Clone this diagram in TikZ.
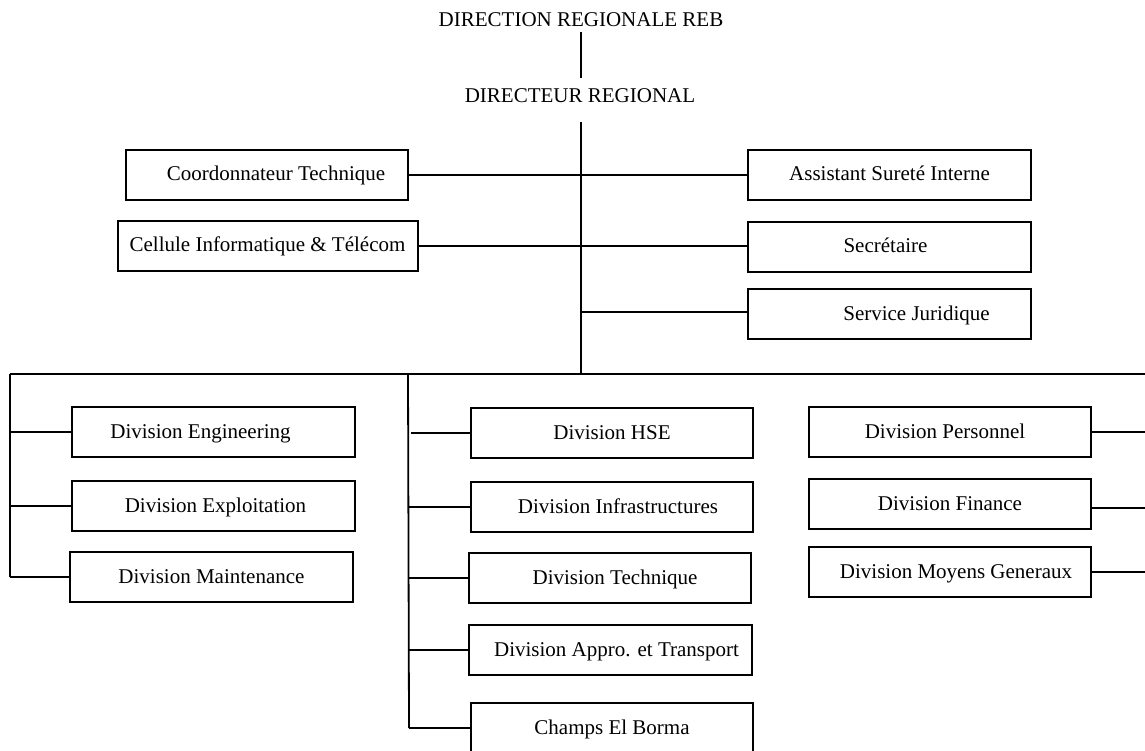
\documentclass[tikz,border=0pt]{standalone}
\usepackage{fontspec}
\setmainfont{Liberation Serif}
\begin{document}
\begin{tikzpicture}[x=1pt,y=-1pt,
  orgbox/.style={draw=black,line width=2pt,minimum width=282pt,minimum height=50pt,inner sep=0pt,text height=14pt,text depth=2pt,font=\fontsize{21}{24}\selectfont},
  plain/.style={inner sep=0pt,text height=14pt,text depth=2pt,font=\fontsize{21}{24}\selectfont},
  toptext/.style={inner sep=0pt,font=\fontsize{21}{24}\selectfont},
  conn/.style={draw=black,line width=1.8pt}]
\useasboundingbox (0,0) rectangle (1145,751);
% top
\node[toptext] (dir) at (581,20) {DIRECTION REGIONALE REB};
\node[toptext] (dr) at (580,96) {DIRECTEUR REGIONAL};
\coordinate (t1) at (581,32);
\coordinate (t2) at (581,78);
\coordinate (t3) at (581,122);
\coordinate (bus) at (581,374);
\draw[conn] (t1) -- (t2);
\draw[conn] (t3) -- (bus);
% staff boxes
\node[orgbox,label={[plain,xshift=9pt]center:Coordonnateur Technique}] (coord) at (267,175) {};
\node[orgbox,minimum width=300pt] (cell) at (267.5,246) {Cellule Informatique \& Télécom};
\node[orgbox,minimum width=283pt] (assist) at (889.5,175) {Assistant Sureté Interne};
\node[orgbox,minimum width=283pt,label={[plain,xshift=-4pt]center:Secrétaire}] (secr) at (889.5,247) {};
\node[orgbox,minimum width=283pt,label={[plain,xshift=27pt]center:Service Juridique}] (juri) at (889.5,314) {};
\coordinate (jc) at (581,312);
\draw[conn] (coord.east) -- (assist.west);
\draw[conn] (cell.east) -- (cell.east -| secr.west);
\draw[conn] (jc) -- (juri.west |- jc);
% bus
\coordinate (bl) at (10,374);
\coordinate (bm) at (408,374);
\coordinate (br) at (1145,374);
\draw[conn] (bl) -- (br);
% left column
\node[orgbox,minimum width=283pt,label={[plain,xshift=-13pt]center:Division Engineering}] (eng) at (213.5,432) {};
\node[orgbox,minimum width=283pt,label={[plain,xshift=2pt]center:Division Exploitation}] (expl) at (213.5,506) {};
\node[orgbox,minimum width=283pt] (maint) at (211.5,577) {Division Maintenance};
\coordinate (lb) at (10,577);
\draw[conn] (bl) -- (lb);
\draw[conn] (10,432) -- (eng.west);
\draw[conn] (10,506) -- (expl.west);
\draw[conn] (lb) -- (maint.west);
% middle column
\node[orgbox] (hse) at (612,433) {Division HSE};
\node[orgbox,label={[plain,xshift=6pt]center:Division Infrastructures}] (infra) at (612,507) {};
\node[orgbox,label={[plain,xshift=5pt]center:Division Technique}] (tech) at (610,578) {};
\node[orgbox,minimum width=283pt,label={[plain,xshift=6pt]center:Division Appro. et Transport}] (appro) at (610.5,650) {};
\node[orgbox] (champs) at (612,728) {Champs El Borma};
\coordinate (mb) at (409,728);
\draw[conn] (bm) -- (mb);
\draw[conn] (411,433) -- (hse.west);
\draw[conn] (409,507) -- (infra.west);
\draw[conn] (409,578) -- (tech.west);
\draw[conn] (409,650) -- (appro.west);
\draw[conn] (mb) -- (champs.west);
% right column
\node[orgbox,label={[plain,xshift=-5pt]center:Division Personnel}] (pers) at (950,432) {};
\node[orgbox] (fin) at (950,504) {Division Finance};
\node[orgbox,label={[plain,xshift=6pt]center:Division Moyens Generaux}] (moy) at (950,572) {};
\coordinate (rp) at (1145,432);
\coordinate (rf) at (1145,508);
\coordinate (rm) at (1145,572);
\draw[conn] (pers.east) -- (rp);
\draw[conn] (fin.east |- rf) -- (rf);
\draw[conn] (moy.east |- rm) -- (rm);
\end{tikzpicture}
\end{document}
